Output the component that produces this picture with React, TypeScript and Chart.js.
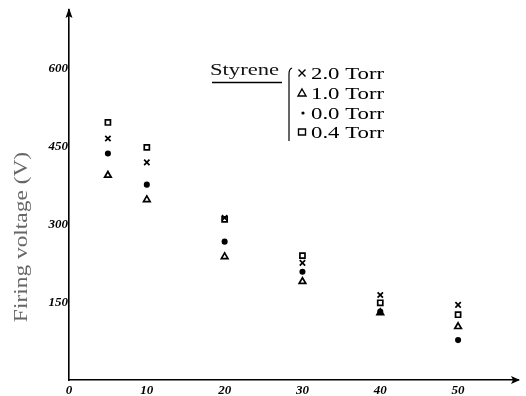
import React, { useEffect, useRef } from "react";
import { Chart, registerables } from "chart.js";

Chart.register(...registerables);

const pressureX = [5, 10, 20, 30, 40, 50];
const torr20 = [466, 420, 313, 226, 164, 145];
const torr10 = [395, 348, 238, 190, 130, 103];
const torr00 = [437, 377, 267, 209, 132, 77];
const torr04 = [497, 449, 310, 240, 149, 126];
const legendTitle = "Styrene";
const legendLabels = ["2.0 Torr", "1.0 Torr", "0.0 Torr", "0.4 Torr"];
const yTitle = "Firing voltage (V)";
const yTicks = [150, 300, 450, 600];
const xTicks = [0, 10, 20, 30, 40, 50];

const toPoints = (ys: number[]) => ys.map((y, i) => ({ x: pressureX[i], y }));

const decorPlugin = {
  id: "decor",
  afterDraw(chart: any) {
    const ctx = chart.ctx;
    const ca = chart.chartArea;
    const xs = chart.scales.x;
    const ys = chart.scales.y;
    const x0 = xs.getPixelForValue(0);
    const y0 = ys.getPixelForValue(0);
    ctx.save();
    ctx.fillStyle = "#000";
    ctx.strokeStyle = "#000";
    // arrows
    ctx.beginPath();
    ctx.moveTo(ca.right + 2, y0);
    ctx.lineTo(ca.right - 7, y0 - 4);
    ctx.lineTo(ca.right - 5, y0);
    ctx.lineTo(ca.right - 7, y0 + 4);
    ctx.closePath();
    ctx.fill();
    ctx.beginPath();
    ctx.moveTo(x0, ca.top - 2);
    ctx.lineTo(x0 - 3.5, ca.top + 8);
    ctx.lineTo(x0, ca.top + 6);
    ctx.lineTo(x0 + 3.5, ca.top + 8);
    ctx.closePath();
    ctx.fill();
    // y title
    ctx.save();
    ctx.translate(22, 237);
    ctx.rotate(-Math.PI / 2);
    ctx.scale(1.3, 1);
    ctx.fillStyle = "#666";
    ctx.font = "18px 'Liberation Serif'";
    ctx.textAlign = "center";
    ctx.textBaseline = "middle";
    ctx.fillText(yTitle, 0, 0);
    ctx.restore();
    // legend
    ctx.save();
    ctx.translate(210, 75);
    ctx.scale(1.33, 1);
    ctx.font = "17px 'Liberation Serif'";
    ctx.textBaseline = "alphabetic";
    ctx.fillStyle = "#111";
    ctx.fillText(legendTitle, 0, 0);
    ctx.restore();
    ctx.lineWidth = 1.3;
    ctx.beginPath();
    ctx.moveTo(212, 82.5);
    ctx.lineTo(282, 82.5);
    ctx.stroke();
    // brace
    ctx.lineWidth = 1.2;
    ctx.beginPath();
    ctx.moveTo(292, 68);
    ctx.quadraticCurveTo(289, 69, 289, 74);
    ctx.lineTo(289, 141);
    ctx.stroke();
    const rows = [73, 93, 113, 132];
    rows.forEach((ry, i) => {
      const sx = 302;
      ctx.lineWidth = 1.4;
      ctx.beginPath();
      if (i === 0) {
        ctx.moveTo(sx - 3.5, ry - 3.5); ctx.lineTo(sx + 3.5, ry + 3.5);
        ctx.moveTo(sx + 3.5, ry - 3.5); ctx.lineTo(sx - 3.5, ry + 3.5);
        ctx.stroke();
      } else if (i === 1) {
        ctx.moveTo(sx, ry - 4); ctx.lineTo(sx + 4, ry + 3); ctx.lineTo(sx - 4, ry + 3); ctx.closePath();
        ctx.stroke();
      } else if (i === 2) {
        ctx.arc(sx + 1, ry, 1.6, 0, Math.PI * 2);
        ctx.fill();
      } else {
        ctx.rect(sx - 3.5, ry - 3, 7, 6);
        ctx.stroke();
      }
      ctx.save();
      ctx.translate(311, ry + 6);
      ctx.scale(1.34, 1);
      ctx.font = "17px 'Liberation Serif'";
      ctx.fillText(legendLabels[i], 0, 0);
      ctx.restore();
    });
    ctx.restore();
  },
};

export default function App() {
  const ref = useRef<HTMLCanvasElement | null>(null);
  useEffect(() => {
    if (!ref.current) return;
    const common = { borderColor: "#000", showLine: false, borderWidth: 1.7, pointRadius: 3.8 };
    const chart = new Chart(ref.current, {
      type: "scatter",
      data: {
        datasets: [
          { ...common, label: legendLabels[0], data: toPoints(torr20), pointStyle: "crossRot", backgroundColor: "#000", pointRadius: 3.8 },
          { ...common, label: legendLabels[1], data: toPoints(torr10), pointStyle: "triangle", backgroundColor: "rgba(0,0,0,0)" },
          { ...common, label: legendLabels[2], data: toPoints(torr00), pointStyle: "circle", backgroundColor: "#000", pointRadius: 2.2 },
          { ...common, label: legendLabels[3], data: toPoints(torr04), pointStyle: "rect", backgroundColor: "rgba(0,0,0,0)", pointRadius: 3.6 },
        ],
      },
      options: {
        animation: false,
        responsive: false,
        layout: { padding: { top: 10, right: 8, left: 0, bottom: 0 } },
        plugins: { legend: { display: false }, tooltip: { enabled: false } },
        scales: {
          x: {
            type: "linear",
            min: 0,
            max: 57.7,
            afterFit: (s: any) => { s.height = 16; },
            afterBuildTicks: (s: any) => { s.ticks = xTicks.map((v) => ({ value: v })); },
            border: { display: true, color: "#000", width: 1.6 },
            grid: { drawOnChartArea: false, drawTicks: false },
            ticks: {
              color: "#000",
              padding: 3,
              maxRotation: 0,
              font: { family: "'Liberation Serif'", size: 13, style: "italic", weight: "bold" },
            },
          },
          y: {
            type: "linear",
            min: 0,
            max: 714,
            afterFit: (s: any) => { s.width = 69; },
            afterBuildTicks: (s: any) => { s.ticks = yTicks.map((v) => ({ value: v })); },
            border: { display: true, color: "#000", width: 1.6 },
            grid: { drawOnChartArea: false, drawTicks: false },
            ticks: {
              color: "#000",
              padding: 1,
              font: { family: "'Liberation Serif'", size: 13, style: "italic", weight: "bold" },
            },
          },
        },
      },
      plugins: [decorPlugin],
    } as any);
    return () => chart.destroy();
  }, []);
  return (
    <div style={{ position: "fixed", left: 0, top: 0, width: 526, height: 396, background: "#fff" }}>
      <canvas ref={ref} width={526} height={396} style={{ width: 526, height: 396, display: "block" }} />
    </div>
  );
}
